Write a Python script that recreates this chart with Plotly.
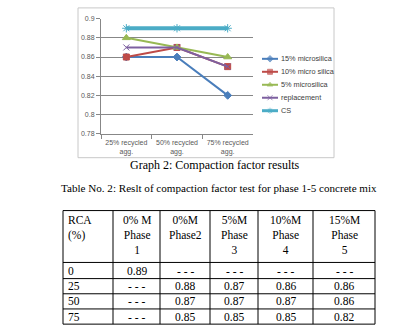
import plotly.graph_objects as go

# ---- chart data: compaction factor vs. recycled aggregate content ----
categories = ["25% recycled<br>agg.", "50% recycled<br>agg.", "75% recycled<br>agg."]
series_names = ["15% microsilica", "10% micro silica", "5% microsilica", "replacement", "CS"]
ms15 = [0.86, 0.86, 0.82]
ms10 = [0.86, 0.87, 0.85]
ms5 = [0.88, 0.87, 0.86]
replacement = [0.87, 0.87, 0.85]
cs = [0.89, 0.89, 0.89]
y_ticks = [0.78, 0.80, 0.82, 0.84, 0.86, 0.88, 0.90]

# ---- table data: compaction factor test, phases 1-5 ----
table_header = ["RCA<br>(%)", "0% M<br>Phase<br>1", "0%M<br>Phase2",
                "5%M<br>Phase<br>3", "10%M<br>Phase<br>4", "15%M<br>Phase<br>5"]
rca = ["0", "25", "50", "75"]
phase1 = [0.89, None, None, None]
phase2 = [None, 0.88, 0.87, 0.85]
phase3 = [None, 0.87, 0.87, 0.85]
phase4 = [None, 0.86, 0.87, 0.85]
phase5 = [None, 0.86, 0.86, 0.82]

caption = "Graph 2: Compaction factor results"
table_title = "Table No. 2: Reslt of compaction factor test for phase 1-5 concrete mix"

W, H = 412, 333


def px(x):
    return x / W


def py(y):
    return 1 - y / H


colors = ["#4a7ebb", "#be4b48", "#98b954", "#7d60a0", "#4bacc6"]
symbols = ["diamond", "square", "triangle-up", "x-thin-open", "asterisk-open"]
sizes = [6, 6, 7, 6, 7]
widths = [2, 2, 2, 2, 4]
values = [ms15, ms10, ms5, replacement, cs]

sans = "Liberation Sans"
serif = "Liberation Serif"


def marker_edge(name, color, symbol):
    if not symbol.endswith("open"):
        return color
    return "#9fd8e8" if name == "CS" else color


fig = go.Figure()
for name, vals, c, s, sz, lw in zip(series_names, values, colors, symbols, sizes, widths):
    fig.add_trace(go.Scatter(
        x=categories, y=vals, name=name, mode="lines+markers",
        line=dict(color=c, width=lw),
        marker=dict(symbol=s, size=sz, color=c,
                    line=dict(color=marker_edge(name, c, s), width=1)),
        showlegend=False, cliponaxis=False,
    ))

# compact legend on an overlay axis measured in pixels
leg_x0, leg_x1, leg_y0, leg_dy = 262, 278, 56, 13.25
for i, (name, c, s, lw) in enumerate(zip(series_names, colors, symbols, widths)):
    yy = leg_y0 + i * leg_dy
    fig.add_trace(go.Scatter(
        x=[leg_x0, (leg_x0 + leg_x1) / 2, leg_x1], y=[yy, yy, yy],
        xaxis="x2", yaxis="y2", mode="lines+markers",
        line=dict(color=c, width=min(lw, 3)),
        marker=dict(symbol=s, size=[0, 5, 0], color=c,
                    line=dict(color=marker_edge(name, c, s), width=1)),
        showlegend=False, hoverinfo="skip",
    ))
    fig.add_annotation(x=px(leg_x1 + 1), y=py(yy), xref="paper", yref="paper",
                       text=name, showarrow=False, xanchor="left", yanchor="middle",
                       font=dict(family=sans, size=7.3, color="#404040"))

shapes = []
# chart frame
shapes.append(dict(type="rect", xref="paper", yref="paper",
                   x0=px(78), x1=px(334), y0=py(157), y1=py(4),
                   line=dict(color="#c8c8c8", width=1)))

# table grid
col_x = [63, 113, 160, 210, 258, 313, 375]
row_y = [211, 264, 280.5, 296, 311.5, 327]
for x in col_x:
    shapes.append(dict(type="line", xref="paper", yref="paper",
                       x0=px(x), x1=px(x), y0=py(row_y[0]), y1=py(row_y[-1]),
                       line=dict(color="black", width=1)))
for y in row_y:
    shapes.append(dict(type="line", xref="paper", yref="paper",
                       x0=px(col_x[0]), x1=px(col_x[-1]), y0=py(y), y1=py(y),
                       line=dict(color="black", width=1)))

tfont = dict(family=serif, size=11.5, color="black")

# table header text
for j, head in enumerate(table_header):
    if j == 0:
        xa, anchor = col_x[0] + 3, "left"
    else:
        xa, anchor = (col_x[j] + col_x[j + 1]) / 2, "center"
    fig.add_annotation(x=px(xa), y=py(row_y[0] + 1), xref="paper", yref="paper",
                       text=head, showarrow=False, xanchor=anchor, yanchor="top",
                       align=anchor, font=tfont)

# table body text
columns = [phase1, phase2, phase3, phase4, phase5]
for i, r in enumerate(rca):
    yc = (row_y[i + 1] + row_y[i + 2]) / 2
    fig.add_annotation(x=px(col_x[0] + 3), y=py(yc), xref="paper", yref="paper",
                       text=r, showarrow=False, xanchor="left", yanchor="middle",
                       font=tfont)
    for j, col in enumerate(columns):
        v = col[i]
        txt = "- - -" if v is None else f"{v:.2f}"
        xc = (col_x[j + 1] + col_x[j + 2]) / 2
        fig.add_annotation(x=px(xc), y=py(yc), xref="paper", yref="paper",
                           text=txt, showarrow=False, xanchor="center", yanchor="middle",
                           font=tfont)

# captions
fig.add_annotation(x=px(215), y=py(164), xref="paper", yref="paper", text=caption,
                   showarrow=False, xanchor="center", yanchor="middle",
                   font=dict(family=serif, size=12, color="black"))
fig.add_annotation(x=px(219), y=py(188), xref="paper", yref="paper", text=table_title,
                   showarrow=False, xanchor="center", yanchor="middle",
                   font=dict(family=serif, size=11.1, color="black"))

grid = "#878787"
fig.update_layout(
    width=W, height=H, margin=dict(l=0, r=0, t=0, b=0),
    paper_bgcolor="white", plot_bgcolor="rgba(0,0,0,0)",
    shapes=shapes,
    xaxis=dict(domain=[px(101), px(253)], type="category", range=[-0.5, 2.5],
               showline=True, linecolor=grid, linewidth=1,
               ticks="outside", ticklen=4, tickcolor=grid, tickson="boundaries",
               tickangle=0, ticklabelstandoff=2, showgrid=False, zeroline=False,
               tickfont=dict(family=sans, size=7, color="#595959")),
    yaxis=dict(domain=[py(132.5), py(15)], range=[0.78, 0.9],
               tickvals=y_ticks, ticktext=[f"{v:g}" for v in y_ticks],
               showline=True, linecolor=grid, linewidth=1,
               ticks="outside", ticklen=4, tickcolor=grid,
               showgrid=True, gridcolor=grid, gridwidth=1, zeroline=False,
               tickfont=dict(family=sans, size=7, color="#595959")),
    xaxis2=dict(domain=[0, 1], range=[0, W], visible=False, anchor="y2"),
    yaxis2=dict(domain=[0, 1], range=[H, 0], visible=False, anchor="x2"),
)

fig.write_html("out.html")
